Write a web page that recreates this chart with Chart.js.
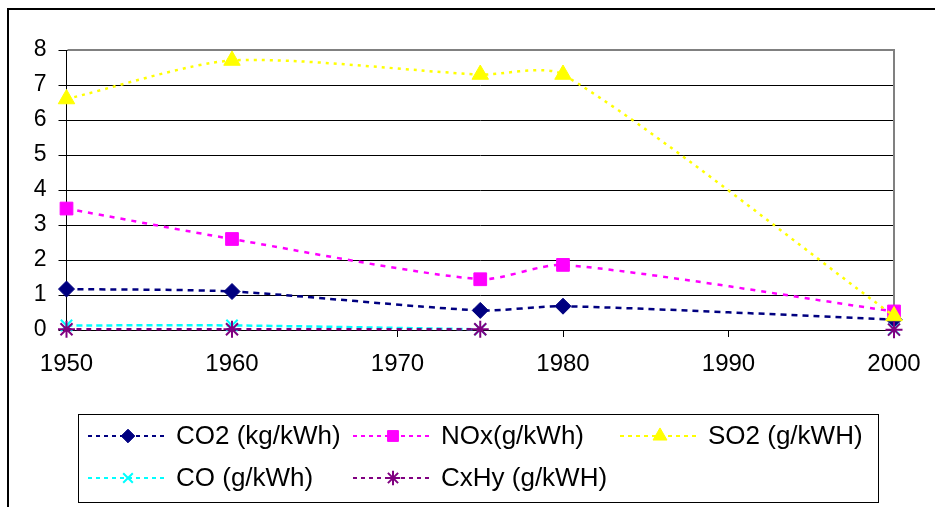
<!DOCTYPE html>
<html>
<head>
<meta charset="utf-8">
<script src="https://cdn.jsdelivr.net/npm/chart.js@4.4.1/dist/chart.umd.min.js"></script>
<style>
html,body{margin:0;padding:0;background:#fff;overflow:hidden}
#wrap{position:relative;width:935px;height:507px}
canvas{display:block}
</style>
</head>
<body>
<div id="wrap"><canvas id="c" width="935" height="507"></canvas></div>
<script>
// ---- data ----
const years = [1950, 1960, 1975, 1980, 2000];
const co2  = [1.17, 1.10, 0.56, 0.68, 0.30];
const nox  = [3.47, 2.60, 1.45, 1.86, 0.53];
const so2  = [6.60, 7.70, 7.30, 7.30, 0.40];
const co   = [0.13, 0.13, 0.02, null, 0.02];
const cxhy = [0.02, 0.02, 0.02, null, 0.01];
const seriesNames = ['CO2 (kg/kWh)', 'NOx(g/kWh)', 'SO2 (g/kWH)', 'CO (g/kWh)', 'CxHy (g/kWH)'];
const xTickValues = [1950, 1960, 1970, 1980, 1990, 2000];
const yTickValues = [0, 1, 2, 3, 4, 5, 6, 7, 8];

const FONT = '"Liberation Sans", Arial, sans-serif';
const toXY = arr => years.map((y, i) => ({x: y, y: arr[i]}));

function mk(label, arr, color, style, radius, dash, bw, order) {
  return {
    label: label,
    data: toXY(arr),
    borderColor: color,
    backgroundColor: color,
    pointBackgroundColor: color,
    pointBorderColor: color,
    pointStyle: style,
    pointRadius: radius,
    pointHoverRadius: radius,
    pointBorderWidth: bw,
    borderWidth: 2.5,
    borderDash: dash,
    tension: 0.25,
    spanGaps: false,
    fill: false,
    clip: false,
    order: order
  };
}

const datasets = [
  mk(seriesNames[0], co2,  '#000080', 'rectRot',  8,   [6, 5], 1, 4),
  mk(seriesNames[1], nox,  '#FF00FF', 'rect',     9,   [5, 6], 1, 3),
  mk(seriesNames[2], so2,  '#FFFF00', 'triangle', 9.5, [3, 5], 1, 2),
  mk(seriesNames[3], co,   '#00FFFF', 'crossRot', 8,   [6, 4], 2, 1),
  mk(seriesNames[4], cxhy, '#800080', 'star',     8.5, [5, 5], 2, 0)
];

const framePlugin = {
  id: 'frame',
  beforeDraw(chart) {
    const ctx = chart.ctx;
    ctx.save();
    ctx.fillStyle = '#fff';
    ctx.fillRect(0, 0, chart.width, chart.height);
    ctx.fillStyle = '#000';
    ctx.fillRect(7, 8, 2, chart.height - 8);
    ctx.fillRect(7, 8, chart.width - 7, 2);
    ctx.restore();
  },
  beforeDatasetsDraw(chart) {
    const a = chart.chartArea, ctx = chart.ctx;
    ctx.save();
    ctx.strokeStyle = '#808080';
    ctx.lineWidth = 2;
    ctx.beginPath();
    ctx.moveTo(a.left + 1, a.top);
    ctx.lineTo(a.right, a.top);
    ctx.lineTo(a.right, a.bottom);
    ctx.stroke();
    ctx.restore();
  }
};

const legendPlugin = {
  id: 'xlLegend',
  afterDraw(chart) {
    const ctx = chart.ctx;
    ctx.save();
    ctx.strokeStyle = '#000';
    ctx.lineWidth = 1;
    ctx.strokeRect(78.5, 414.5, 800, 88);
    const cols = [88, 353, 620];
    const rows = [436, 478];
    chart.data.datasets.forEach((ds, i) => {
      const x0 = cols[i % 3], y = rows[Math.floor(i / 3)];
      ctx.save();
      ctx.strokeStyle = ds.borderColor;
      ctx.lineWidth = 2;
      ctx.setLineDash([4, 4]);
      ctx.beginPath();
      ctx.moveTo(x0, y);
      ctx.lineTo(x0 + 77, y);
      ctx.stroke();
      ctx.restore();
      ctx.save();
      ctx.fillStyle = ds.borderColor;
      ctx.strokeStyle = ds.borderColor;
      ctx.lineWidth = ds.pointBorderWidth;
      if (Chart.helpers && Chart.helpers.drawPoint) {
        Chart.helpers.drawPoint(ctx, {pointStyle: ds.pointStyle, rotation: 0, radius: ds.pointRadius * 0.85, borderWidth: ds.pointBorderWidth}, x0 + 40, y);
      }
      ctx.restore();
      ctx.fillStyle = '#000';
      ctx.font = '26px ' + FONT;
      ctx.textBaseline = 'middle';
      ctx.textAlign = 'left';
      ctx.fillText(ds.label, x0 + 88, y + 1);
    });
    ctx.restore();
  }
};

new Chart(document.getElementById('c'), {
  type: 'line',
  data: { datasets: datasets },
  plugins: [framePlugin, legendPlugin],
  options: {
    responsive: false,
    animation: false,
    devicePixelRatio: 1,
    layout: { padding: { left: 0, top: 50, right: 41, bottom: 117 } },
    plugins: { legend: { display: false }, tooltip: { enabled: false } },
    scales: {
      x: {
        type: 'linear',
        min: 1950, max: 2000,
        afterBuildTicks: s => { s.ticks = xTickValues.map(v => ({value: v})); },
        afterFit: s => { s.height = 60; },
        grid: { drawOnChartArea: false, drawTicks: true, tickLength: 7, color: '#000', lineWidth: 1 },
        border: { display: true, color: '#000', width: 1 },
        ticks: { color: '#000', font: { family: FONT, size: 24 }, padding: 13, maxRotation: 0, autoSkip: false,
                 callback: v => String(v) }
      },
      y: {
        min: 0, max: 8,
        afterBuildTicks: s => { s.ticks = yTickValues.map(v => ({value: v})); },
        afterFit: s => { s.width = 66.5; },
        grid: { color: '#000', lineWidth: 1, tickLength: 8, drawTicks: true },
        border: { display: true, color: '#000', width: 1 },
        ticks: { color: '#000', font: { family: FONT, size: 23 }, padding: 12, callback: v => String(v) }
      }
    }
  }
});
</script>
</body>
</html>
